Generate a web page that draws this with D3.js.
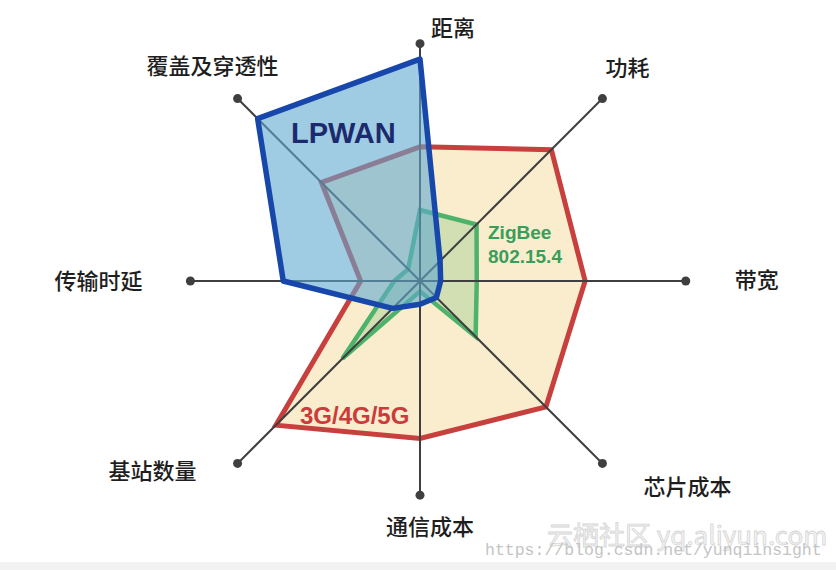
<!DOCTYPE html>
<html>
<head>
<meta charset="utf-8">
<script src="https://cdn.jsdelivr.net/npm/d3@7"></script>
<style>
  body { margin: 0; background: #ffffff; }
</style>
</head>
<body>
<div id="chart-container"></div>
<script>
// Axes, clockwise from the top
const axes = ["距离", "功耗", "带宽", "芯片成本", "通信成本", "基站数量", "传输时延", "覆盖及穿透性"];
// how far each axis line reaches (same units as the values)
const axisReach = [9.2, 10, 10.3, 10, 8.3, 10, 8.9, 10];

const seriesNames = ["3G/4G/5G", "ZigBee 802.15.4", "LPWAN"];
const cellularValues = [5.2, 7.2, 6.4, 6.9, 6.1, 7.9, 2.3, 5.4];
const zigbeeValues = [2.75, 3.1, 2.2, 3.05, 0.4, 4.25, 1.0, 0.65];
const lpwanValues = [8.6, 1.1, 0.8, 0.9, 0.9, 1.5, 5.3, 8.9];

const width = 836;
const height = 570;
const center = { x: 420, y: 281 };

const svg = d3
  .select("#chart-container")
  .append("svg")
  .attr("width", width)
  .attr("height", height)
  .style("font-family", "'Noto Sans CJK SC', 'Noto Sans', sans-serif");

svg.append("rect").attr("width", width).attr("height", height).attr("fill", "#ffffff");
// light strip at the bottom of the screenshot
svg.append("rect").attr("x", 0).attr("y", 562).attr("width", width).attr("height", 8).attr("fill", "#f2f2f2");

const angle = d3.scaleLinear().domain([0, axes.length]).range([0, 2 * Math.PI]);
const radius = d3.scaleLinear().domain([0, 10]).range([0, 258]);

const point = (i, v) => {
  const a = angle(i);
  return { x: radius(v) * Math.sin(a), y: -radius(v) * Math.cos(a) };
};

const radarLine = d3
  .lineRadial()
  .angle((d, i) => angle(i))
  .radius((d) => radius(d))
  .curve(d3.curveLinearClosed);

const g = svg.append("g").attr("transform", `translate(${center.x},${center.y})`);

// series styles: cellular, zigbee, lpwan
const styles = [
  { fill: "#f9edcd", fillOpacity: 1, stroke: "#c8403d", width: 5, join: "miter" },
  { fill: "#6dbb6a", fillOpacity: 0.28, stroke: "#4db36a", width: 4.5, join: "miter" },
  { fill: "rgb(95,168,208)", fillOpacity: 0.6, stroke: "#1747aa", width: 5.5, join: "round" },
];

const drawSeries = (values, s) => {
  g.append("path")
    .attr("d", radarLine(values))
    .attr("fill", s.fill)
    .attr("fill-opacity", s.fillOpacity)
    .attr("stroke", s.stroke)
    .attr("stroke-width", s.width)
    .attr("stroke-linejoin", s.join);
};

drawSeries(cellularValues, styles[0]);
drawSeries(zigbeeValues, styles[1]);

//#region === AXES ===
g.selectAll("line.axis")
  .data(axes)
  .enter()
  .append("line")
  .attr("class", "axis")
  .attr("x1", 0)
  .attr("y1", 0)
  .attr("x2", (d, i) => point(i, axisReach[i]).x)
  .attr("y2", (d, i) => point(i, axisReach[i]).y)
  .attr("stroke", "#3f3f3f")
  .attr("stroke-width", 2);

g.selectAll("circle.dot")
  .data(axes)
  .enter()
  .append("circle")
  .attr("class", "dot")
  .attr("cx", (d, i) => point(i, axisReach[i]).x)
  .attr("cy", (d, i) => point(i, axisReach[i]).y)
  .attr("r", 4.5)
  .attr("fill", "#3f3f3f");
//#endregion

drawSeries(lpwanValues, styles[2]);

//#region === AXIS LABELS ===
// offset from each axis end dot
const labelLayout = [
  { dx: 11, dy: -8, anchor: "start" },
  { dx: 3, dy: -23, anchor: "start" },
  { dx: 49, dy: 7, anchor: "start" },
  { dx: 41, dy: 32, anchor: "start" },
  { dx: 10, dy: 40, anchor: "middle" },
  { dx: -41, dy: 16, anchor: "end" },
  { dx: -48, dy: 8, anchor: "end" },
  { dx: -25, dy: -25, anchor: "middle" },
];

g.selectAll("text.axis-label")
  .data(axes)
  .enter()
  .append("text")
  .attr("class", "axis-label")
  .attr("x", (d, i) => point(i, axisReach[i]).x + labelLayout[i].dx)
  .attr("y", (d, i) => point(i, axisReach[i]).y + labelLayout[i].dy)
  .attr("text-anchor", (d, i) => labelLayout[i].anchor)
  .style("font-size", "22px")
  .style("font-weight", 500)
  .style("fill", "#1e1e1e")
  .text((d) => d);
//#endregion

//#region === SERIES NAMES ===
const bold = "Liberation Sans, Arial, sans-serif";

svg.append("text")
  .attr("x", 291)
  .attr("y", 143)
  .style("font-family", bold)
  .style("font-weight", "bold")
  .style("font-size", "29px")
  .style("fill", "#1b2a6c")
  .text(seriesNames[2]);

const zigLines = seriesNames[1].split(" ");
svg.selectAll("text.zig")
  .data(zigLines)
  .enter()
  .append("text")
  .attr("class", "zig")
  .attr("x", 488)
  .attr("y", (d, i) => 239 + i * 24)
  .style("font-family", bold)
  .style("font-weight", "bold")
  .style("font-size", "19px")
  .style("fill", "#3b9d5c")
  .text((d) => d);

svg.append("text")
  .attr("x", 300)
  .attr("y", 424)
  .style("font-family", bold)
  .style("font-weight", "bold")
  .style("font-size", "24px")
  .style("fill", "#cc3b3b")
  .text(seriesNames[0]);
//#endregion

// watermarks
svg.append("text")
  .attr("x", 547)
  .attr("y", 545)
  .style("font-size", "26px")
  .style("fill", "#f4f4f4")
  .style("stroke", "#d6d6d6")
  .style("stroke-width", 0.8)
  .text("云栖社区 yq.aliyun.com");

svg.append("text")
  .attr("x", 485)
  .attr("y", 555)
  .style("font-family", "'Liberation Mono', 'DejaVu Sans Mono', monospace")
  .style("font-size", "16.5px")
  .style("fill", "#c4c4c4")
  .text("https://blog.csdn.net/yunqiinsight");
</script>
</body>
</html>
